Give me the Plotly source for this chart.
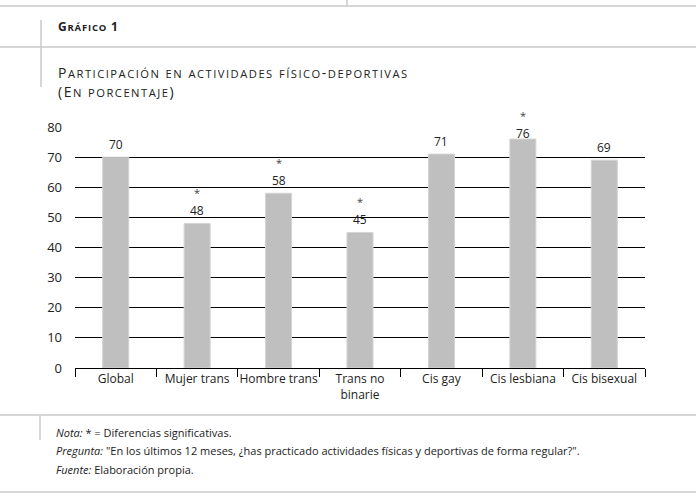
import plotly.graph_objects as go

# ---- data ----
categories = ["Global", "Mujer trans", "Hombre trans", "Trans no<br>binarie",
              "Cis gay", "Cis lesbiana", "Cis bisexual"]
values = [70, 48, 58, 45, 71, 76, 69]
significant = [False, True, True, True, False, True, False]
y_ticks = [0, 10, 20, 30, 40, 50, 60, 70, 80]

title_small = "Gráfico 1"
title_main = "Participación en actividades físico-deportivas"
title_sub = "(En porcentaje)"
notes = [
    "<i>Nota:</i> * = Diferencias significativas.",
    "<i>Pregunta:</i> \"En los últimos 12 meses, ¿has practicado actividades físicas y deportivas de forma regular?\".",
    "<i>Fuente:</i> Elaboración propia.",
]

# ---- layout geometry (pixels) ----
W, H = 696, 499
L, R, T, B = 75, 645, 127, 368
PW, PH = R - L, B - T
YMAX = 80


def px_x(px):
    return (px - L) / PW


def px_y(py):
    return (B - py) / PH


def small_caps(text, big, small, spacing):
    """Emulate small caps: capitals at `big` px, lower-case letters upper-cased at `small` px."""
    out, run, run_low = [], "", None
    def flush(r, low):
        if not r:
            return
        size = small if low else big
        out.append(f'<span style="font-size:{size}px;letter-spacing:{spacing}px">{r.upper()}</span>')
    for ch in text:
        low = ch.islower()
        if run_low is None or low == run_low:
            run += ch
        else:
            flush(run, run_low)
            run = ch
        run_low = low
    flush(run, run_low)
    return "".join(out)


fig = go.Figure()
fig.add_trace(go.Bar(
    x=categories, y=values,
    marker=dict(color="#bfbfbf", line=dict(color="#d4d4d4", width=1)),
    hoverinfo="skip",
))

ppu = PH / YMAX  # pixels per unit
ann = []
for c, v, s in zip(categories, values, significant):
    bar_top = B - v * ppu
    shift = 13 if bar_top - 13 >= T + 7 else 6
    ann.append(dict(x=c, y=v, xref="x", yref="y", text=str(v), showarrow=False,
                    yanchor="middle", yshift=shift,
                    font=dict(family="Open Sans", size=12, color="#222")))
    if s:
        ann.append(dict(x=c, y=v, xref="x", yref="y", text="*", showarrow=False,
                        yanchor="middle", yshift=shift + 18,
                        font=dict(family="Open Sans", size=11, color="#444")))

# titles
ann.append(dict(x=px_x(56), y=px_y(27), xref="paper", yref="paper",
                text="<b>" + small_caps(title_small, 12, 9.5, 0.8) + "</b>",
                showarrow=False, xanchor="left", yanchor="middle",
                font=dict(family="Open Sans", size=12, color="#222")))
ann.append(dict(x=px_x(56), y=px_y(73), xref="paper", yref="paper",
                text=small_caps(title_main, 14, 11.2, 1.5),
                showarrow=False, xanchor="left", yanchor="middle",
                font=dict(family="Open Sans", size=14, color="#222")))
ann.append(dict(x=px_x(56), y=px_y(91), xref="paper", yref="paper",
                text=small_caps(title_sub, 14, 11.2, 1.5),
                showarrow=False, xanchor="left", yanchor="middle",
                font=dict(family="Open Sans", size=14, color="#222")))
for i, n in enumerate(notes):
    ann.append(dict(x=px_x(54), y=px_y(432 + 18.5 * i), xref="paper", yref="paper", text=n,
                    showarrow=False, xanchor="left", yanchor="middle",
                    font=dict(family="Open Sans", size=11, color="#222")))

gray = "#c8c8c8"
shapes = []
for py in [6, 47, 415, 492]:
    shapes.append(dict(type="line", xref="paper", yref="paper",
                       x0=px_x(0), x1=px_x(W), y0=px_y(py), y1=px_y(py),
                       line=dict(color=gray, width=1.5)))
for (px, y0, y1) in [(347, 0, 6), (41, 20, 87), (40, 415, 440)]:
    shapes.append(dict(type="line", xref="paper", yref="paper",
                       x0=px_x(px), x1=px_x(px), y0=px_y(y0), y1=px_y(y1),
                       line=dict(color=gray, width=1.5)))

fig.update_layout(
    width=W, height=H,
    margin=dict(l=L, r=W - R, t=T, b=H - B, pad=0),
    paper_bgcolor="white", plot_bgcolor="white",
    showlegend=False,
    bargap=0.68,
    annotations=ann,
    shapes=shapes,
    font=dict(family="Open Sans", size=12, color="#222"),
)
fig.update_xaxes(
    type="category", showgrid=False, showline=True, linecolor="#000", linewidth=1,
    ticks="outside", tickson="boundaries", ticklen=8, tickcolor="#000", tickwidth=1,
    tickangle=0, tickfont=dict(family="Open Sans", size=12, color="#222"), fixedrange=True,
)
fig.update_yaxes(
    range=[0, YMAX], tickvals=y_ticks, showgrid=True, gridcolor="#000", gridwidth=1,
    zeroline=False, showline=False, ticks="", ticklabelstandoff=12,
    tickfont=dict(family="Open Sans", size=13, color="#222"), fixedrange=True,
)

fig.write_html("out.html", config=dict(displayModeBar=False),
               post_script="document.body.style.margin='0';document.body.style.overflow='hidden';")
